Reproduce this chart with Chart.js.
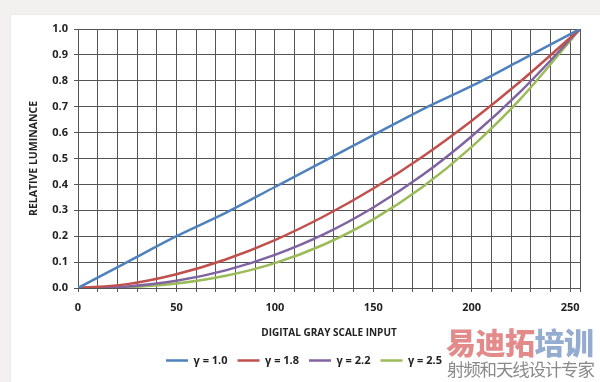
<!DOCTYPE html>
<html><head><meta charset="utf-8">
<script src="https://cdn.jsdelivr.net/npm/chart.js@4/dist/chart.umd.min.js"></script>
<style>
html,body{margin:0;padding:0;background:#f3f0f0;width:600px;height:382px;overflow:hidden;}
#panel{position:absolute;left:10px;top:14px;width:590px;height:368px;background:#fff;border-left:1px solid #ece9e9;border-top:1px solid #ece9e9;}
#wrap{position:absolute;left:0;top:0;width:600px;height:382px;}
.wm1{position:absolute;left:446px;top:324px;font-family:"Noto Sans CJK SC";font-weight:900;font-size:30px;letter-spacing:-0.5px;line-height:34px;white-space:nowrap;}
.wm2{position:absolute;left:447px;top:358px;font-family:"Noto Sans CJK SC";font-size:17.5px;color:#8a8a8a;line-height:22px;white-space:nowrap;letter-spacing:-1.2px;}
</style></head>
<body>
<div id="panel"></div>
<div id="wrap"><canvas id="c" width="600" height="382"></canvas></div>
<div class="wm1"><span style="color:#e38b8b">易迪拓</span><span style="color:#93acd0">培训</span></div>
<div class="wm2">射频和天线设计专家</div>
<script>
const xValues = [0, 25, 50, 75, 100, 125, 150, 175, 200, 225, 255];
const gamma10 = [0, 0.10, 0.20, 0.29, 0.39, 0.49, 0.59, 0.69, 0.78, 0.88, 1.0];
const gamma18 = [0, 0.015, 0.053, 0.110, 0.185, 0.277, 0.384, 0.507, 0.646, 0.799, 1.0];
const gamma22 = [0, 0.006, 0.028, 0.068, 0.128, 0.208, 0.311, 0.436, 0.586, 0.760, 1.0];
const gamma25 = [0, 0.003, 0.017, 0.047, 0.096, 0.168, 0.265, 0.390, 0.545, 0.732, 1.0];
const seriesLabels = ["γ = 1.0", "γ = 1.8", "γ = 2.2", "γ = 2.5"];
const seriesColors = ["#4f81bd", "#c0504d", "#8064a2", "#9bbb59"];
const xTickValues = [0,10,20,30,40,50,60,70,80,90,100,110,120,130,140,150,160,170,180,190,200,210,220,230,240,250,255];
const xLabelValues = [0, 50, 100, 150, 200, 250];

const allSeries = [gamma10, gamma18, gamma22, gamma25];
const datasets = allSeries.map((s, i) => ({
  label: seriesLabels[i],
  data: xValues.map((x, j) => ({x: x, y: s[j]})),
  borderColor: seriesColors[i],
  backgroundColor: seriesColors[i],
  borderWidth: 2.5,
  pointRadius: 0,
  cubicInterpolationMode: 'monotone',
  fill: false
}));

const fam = "'Open Sans', 'DejaVu Sans', sans-serif";
const font = {family: fam, weight: 'bold', size: 11};
new Chart(document.getElementById('c'), {
  type: 'line',
  data: {datasets},
  options: {
    responsive: false,
    animation: false,
    devicePixelRatio: 1,
    layout: {padding: {top: 29, right: 20, bottom: 6, left: 28}},
    plugins: {
      tooltip: {enabled: false},
      legend: {
        position: 'bottom',
        labels: {
          usePointStyle: true,
          pointStyle: 'line',
          pointStyleWidth: 22,
          boxHeight: 3,
          padding: 10,
          color: '#222',
          font: {family: fam, weight: 'bold', size: 11}
        }
      }
    },
    scales: {
      x: {
        type: 'linear',
        min: 0, max: 255,
        afterBuildTicks: (scale) => { scale.ticks = xTickValues.map(v => ({value: v})); },
        afterFit: (scale) => { scale.height = 57; },
        ticks: {
          autoSkip: false,
          maxRotation: 0,
          color: '#222',
          font: font,
          padding: 9,
          callback: (v) => xLabelValues.includes(v) ? String(v) : ''
        },
        grid: {color: '#555', lineWidth: 1, tickLength: 4, drawTicks: true},
        border: {color: '#555', width: 1},
        title: {display: true, text: 'DIGITAL GRAY SCALE INPUT', color: '#222',
          font: {family: fam, weight: 'bold', size: 10}, padding: {top: 0, bottom: 6}}
      },
      y: {
        min: 0, max: 1,
        afterFit: (scale) => { scale.width = 50; },
        ticks: {
          stepSize: 0.1,
          color: '#222',
          font: font,
          padding: 6,
          callback: (v) => Number(v).toFixed(1)
        },
        grid: {color: '#555', lineWidth: 1, tickLength: 4},
        border: {color: '#555', width: 1},
        title: {display: true, text: 'RELATIVE LUMINANCE', color: '#222',
          font: {family: fam, weight: 'bold', size: 10.5}, padding: {top: 0, bottom: 4}}
      }
    }
  }
});
</script>
</body></html>
